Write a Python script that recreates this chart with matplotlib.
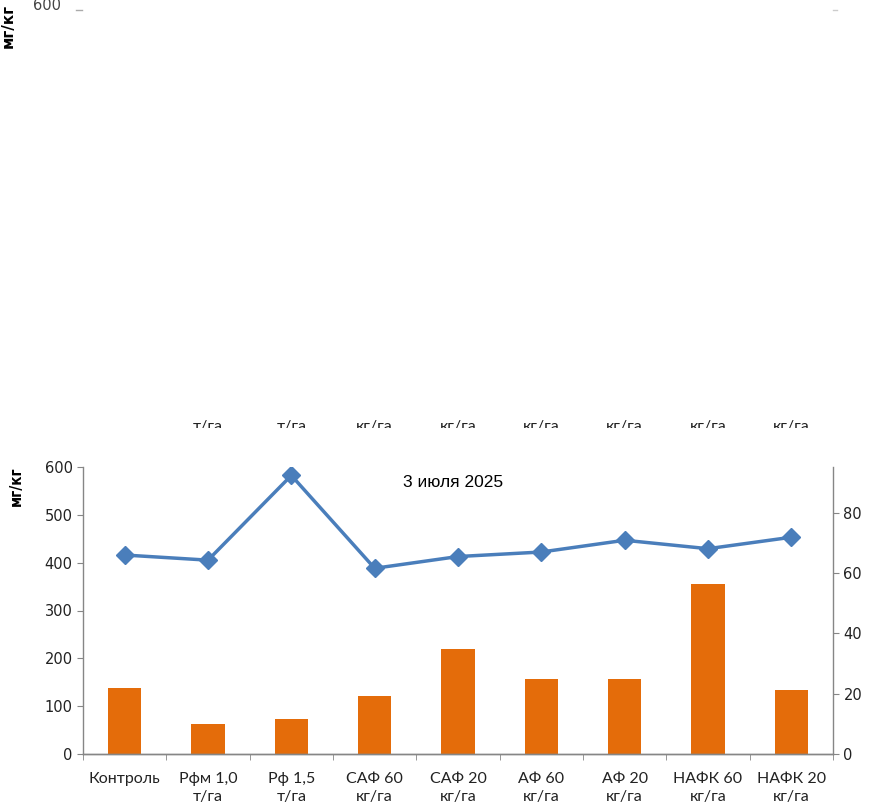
import numpy as np
import matplotlib.pyplot as plt
from matplotlib.patches import Rectangle
from matplotlib.lines import Line2D

categories = ['Контроль', 'Рфм 1,0\nт/га', 'Рф 1,5\nт/га', 'САФ 60\nкг/га', 'САФ 20\nкг/га',
              'АФ 60\nкг/га', 'АФ 20\nкг/га', 'НАФК 60\nкг/га', 'НАФК 20\nкг/га']
bar_values = [139, 63, 73, 122, 220, 157, 157, 356, 134]          # мг/кг, left axis
line_values = [66.0, 64.3, 92.4, 61.6, 65.5, 67.0, 70.9, 68.1, 71.9]  # right axis
title = '3 июля 2025'

W, H = 876, 805
fig = plt.figure(figsize=(W / 100, H / 100), dpi=100)

def fx(px):
    return px / W

def fy(py):
    return 1 - py / H

ax = fig.add_axes([fx(83), fy(754), fx(833) - fx(83), fy(467) - fy(754)])
ax2 = ax.twinx()

x = np.arange(len(categories))
ax.bar(x, bar_values, width=0.4, color='#E46C0A', zorder=2)
ax2.plot(x, line_values, color='#4A7EBB', lw=2.5, marker='D', ms=9,
         mfc='#4A7EBB', mec='#4A7EBB', zorder=3)

ax.set_xlim(-0.5, len(categories) - 0.5)
ax.set_ylim(0, 600)
ax.set_yticks(range(0, 601, 100))
ax2.set_ylim(0, 95.2)
ax2.set_yticks(range(0, 81, 20))

ax.set_xticks(x)
ax.set_xticklabels(categories, fontsize=11.5, family=['Lato', 'DejaVu Sans'],
                   linespacing=1.35, color='#222222')
ax.set_xticks(np.arange(-0.5, len(categories), 1), minor=True)
ax.tick_params(axis='x', which='major', length=0, pad=13)
ax.tick_params(axis='x', which='minor', length=4, color='#868686', direction='out')
ax.tick_params(axis='y', length=4, color='#868686', labelsize=10.5, labelcolor='#222222')
ax2.tick_params(axis='y', length=4, color='#868686', labelsize=10.5, labelcolor='#222222')

for a in (ax, ax2):
    for s in a.spines.values():
        s.set_visible(False)
    a.spines['left'].set_visible(a is ax)
    a.spines['right'].set_visible(a is ax2)
    a.spines['bottom'].set_visible(True)
    for s in a.spines.values():
        s.set_color('#868686')
        s.set_linewidth(1)

fig.text(fx(453), fy(482), title, fontsize=12.5, ha='center', va='center',
         family=['Liberation Sans', 'DejaVu Sans'])
fig.text(fx(16), fy(466), 'мг/кг', rotation=90, ha='center', va='top', fontsize=11,
         fontweight='bold', family=['Liberation Sans Narrow', 'DejaVu Sans'],
         fontstretch='condensed')

# fragments of a cropped chart above
fig.text(fx(47), fy(5), '600', fontsize=10.5, ha='center', va='center', color='#444444')
fig.add_artist(Line2D([fx(76), fx(82)], [fy(10), fy(10)], color='#aaaaaa', lw=1))
fig.add_artist(Line2D([fx(833), fx(837)], [fy(10), fy(10)], color='#cccccc', lw=1))
fig.text(fx(8), fy(4), 'мг/кг', rotation=90, ha='center', va='top', fontsize=11,
         fontweight='bold', family=['Liberation Sans Narrow', 'DejaVu Sans'])
for i, lab in enumerate(categories[1:], start=1):
    fig.text(fx(83 + 83.33 * (i + 0.5)), fy(420), lab.split('\n')[1], fontsize=11.5,
             ha='center', va='top', color='#222222', family=['Lato', 'DejaVu Sans'], zorder=3)
fig.add_artist(Rectangle((0, fy(445)), 1, fy(428) - fy(445), transform=fig.transFigure,
                         facecolor='white', edgecolor='none', zorder=5))

fig.savefig('out.png', dpi=100)
